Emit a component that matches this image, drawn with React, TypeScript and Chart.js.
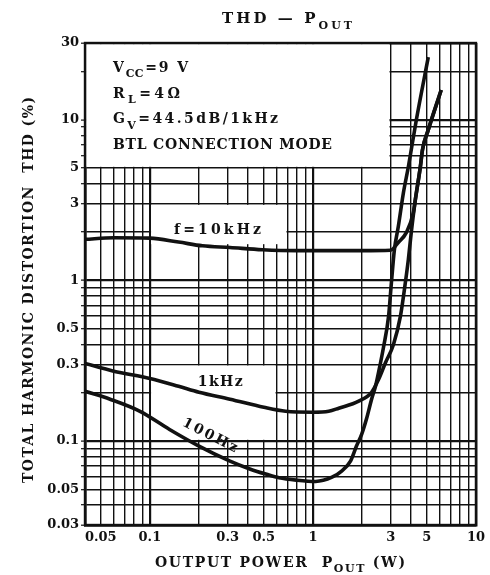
import { useEffect, useRef } from "react";
import { Chart, registerables } from "chart.js";

Chart.register(...registerables);

// ---------------- data ----------------
const xGridValues = [0.04, 0.05, 0.06, 0.07, 0.08, 0.09, 0.1, 0.2, 0.3, 0.4, 0.5, 0.6, 0.7, 0.8, 0.9, 1, 2, 3, 4, 5, 6, 7, 8, 9, 10];
const xLabelValues = [0.05, 0.1, 0.3, 0.5, 1, 3, 5, 10];
const yGridValues = [0.03, 0.04, 0.05, 0.06, 0.07, 0.08, 0.09, 0.1, 0.2, 0.3, 0.4, 0.5, 0.6, 0.7, 0.8, 0.9, 1, 2, 3, 4, 5, 6, 7, 8, 9, 10, 20, 30];
const yLabelValues = [0.03, 0.05, 0.1, 0.3, 0.5, 1, 3, 5, 10, 30];
const decadeValues = [0.1, 1, 10];

// f = 10 kHz
const pout10k = [0.04, 0.06, 0.1, 0.15, 0.21, 0.31, 0.49, 0.8, 1.25, 2.0, 2.99, 3.34, 3.74, 4.13, 4.25, 4.56, 4.7, 5.1, 6.12];
const thd10k = [1.8, 1.84, 1.83, 1.73, 1.64, 1.6, 1.55, 1.53, 1.53, 1.53, 1.54, 1.72, 1.98, 2.64, 3.18, 5.09, 6.5, 8.64, 15.3];

// f = 1 kHz
const pout1k = [0.04, 0.06, 0.1, 0.15, 0.2, 0.31, 0.5, 0.68, 1.0, 1.25, 1.44, 1.91, 2.29, 2.53, 2.79, 3.12, 3.44, 3.69, 3.85, 4.01, 4.25, 4.56, 4.7, 5.1, 6.12];
const thd1k = [0.304, 0.272, 0.245, 0.219, 0.201, 0.182, 0.162, 0.153, 0.151, 0.153, 0.16, 0.177, 0.201, 0.242, 0.308, 0.399, 0.596, 0.968, 1.35, 1.98, 3.18, 5.09, 6.5, 8.64, 15.3];

// f = 100 Hz
const pout100 = [0.04, 0.057, 0.087, 0.132, 0.2, 0.31, 0.41, 0.52, 0.62, 0.8, 1.04, 1.31, 1.5, 1.7, 1.85, 1.99, 2.13, 2.29, 2.42, 2.6, 2.71, 2.91, 3.03, 3.16, 3.34, 3.59, 3.85, 4.01, 4.31, 5.1];
const thd100 = [0.204, 0.182, 0.153, 0.118, 0.093, 0.075, 0.067, 0.062, 0.059, 0.057, 0.056, 0.0595, 0.065, 0.075, 0.093, 0.11, 0.137, 0.182, 0.219, 0.308, 0.383, 0.596, 0.968, 1.55, 2.16, 3.51, 5.09, 6.49, 9.98, 24.5];

type Part = [string, boolean];

const conditionLines: Part[][] = [
  [["V", false], ["CC", true], ["=9 V", false]],
  [["R", false], ["L", true], ["=4Ω", false]],
  [["G", false], ["V", true], ["=44.5dB/1kHz", false]],
  [["BTL CONNECTION MODE", false]],
];

const titleParts: Part[] = [["THD — P", false], ["OUT", true]];
const xTitleParts: Part[] = [["OUTPUT POWER  P", false], ["OUT", true], [" (W)", false]];
const yTitleParts: Part[] = [["TOTAL HARMONIC DISTORTION  THD (%)", false]];

const curveLabelTexts = ["f=10kHz", "1kHz", "100Hz"];

// ---------------- layout (annotation placement) ----------------
const curveLabelPlacement = [
  { x: 0.26, y: 2.1, width: 87, angle: 0 },
  { x: 0.27, y: 0.235, width: 45, angle: 0 },
  { x: 0.235, y: 0.11, width: 60, angle: 27 },
];
const legendBox = { x0: 0.04, x1: 3, y0: 5, y1: 30 };
const labelPatches = [
  { x0: 0.1, x1: 0.7, y0: 1.65, y1: 3 },
  { x0: 0.1, x1: 0.6, y0: 0.1, y1: 0.3 },
];
const conditionWidths = [75, 67, 165, 219];

const FONT = '"DejaVu Serif", serif';
const INK = "#111";

function drawRich(
  ctx: CanvasRenderingContext2D,
  parts: Part[],
  x: number,
  y: number,
  size: number,
  target: number,
  align: "left" | "center",
  subGap = 1
) {
  const subSize = Math.round(size * 0.75);
  let natural = 0;
  let weight = 0;
  const chars: { ch: string; sub: boolean }[] = [];
  for (const [t, s] of parts) {
    ctx.font = `bold ${s ? subSize : size}px ${FONT}`;
    for (const ch of t) {
      natural += ctx.measureText(ch).width;
      chars.push({ ch, sub: s });
    }
  }
  for (let i = 0; i < chars.length - 1; i++) {
    weight += chars[i].sub && chars[i + 1].sub ? subGap : 1;
  }
  const gap = target && weight > 0 ? (target - natural) / weight : 0;
  const total = target || natural;
  let cx = align === "center" ? x - total / 2 : x;
  ctx.textAlign = "left";
  ctx.textBaseline = "alphabetic";
  ctx.fillStyle = INK;
  chars.forEach((c, i) => {
    ctx.font = `bold ${c.sub ? subSize : size}px ${FONT}`;
    ctx.fillText(c.ch, cx, c.sub ? y + size * 0.38 : y);
    const next = chars[i + 1];
    cx += ctx.measureText(c.ch).width + (next && c.sub && next.sub ? gap * subGap : gap);
  });
}

const decorPlugin = {
  id: "decor",
  beforeDatasetsDraw(chart: any) {
    const { ctx, scales } = chart;
    const xs = scales.x;
    const ys = scales.y;
    ctx.save();
    ctx.fillStyle = "#fff";
    const fillBox = (b: { x0: number; x1: number; y0: number; y1: number }) => {
      const l = xs.getPixelForValue(b.x0);
      const r = xs.getPixelForValue(b.x1);
      const t = ys.getPixelForValue(b.y1);
      const bt = ys.getPixelForValue(b.y0);
      ctx.fillRect(l + 1.2, t + 1.2, r - l - 2.4, bt - t - 2.4);
    };
    fillBox(legendBox);
    labelPatches.forEach(fillBox);
    ctx.restore();
  },
  afterDatasetsDraw(chart: any) {
    const { ctx, chartArea, scales } = chart;
    const xs = scales.x;
    const ys = scales.y;
    ctx.save();
    curveLabelTexts.forEach((txt, i) => {
      const p = curveLabelPlacement[i];
      const px = xs.getPixelForValue(p.x);
      const py = ys.getPixelForValue(p.y);
      ctx.save();
      ctx.translate(px, py);
      ctx.rotate((p.angle * Math.PI) / 180);
      drawRich(ctx, [[txt, false]], 0, 5, 14, p.width, "center");
      ctx.restore();
    });
    conditionLines.forEach((parts, i) => {
      drawRich(ctx, parts, chartArea.left + 28, chartArea.top + 29 + i * 25.7, 14, conditionWidths[i], "left", 0.15);
    });
    ctx.restore();
  },
  afterDraw(chart: any) {
    const { ctx, chartArea } = chart;
    ctx.save();
    ctx.strokeStyle = INK;
    ctx.lineWidth = 2.4;
    ctx.strokeRect(chartArea.left, chartArea.top, chartArea.right - chartArea.left, chartArea.bottom - chartArea.top);
    drawRich(ctx, titleParts, 287, 23, 15, 130, "center");
    drawRich(ctx, xTitleParts, 155, 567, 14, 250, "left");
    ctx.save();
    ctx.translate(33, (chartArea.top + chartArea.bottom) / 2 + 6);
    ctx.rotate(-Math.PI / 2);
    drawRich(ctx, yTitleParts, 0, 0, 14, 386, "center");
    ctx.restore();
    ctx.restore();
  },
};

function gridWidth(min: number, max: number) {
  return (c: any) => {
    const v = c.tick ? c.tick.value : undefined;
    if (v === min || v === max) return 2.4;
    return decadeValues.includes(v) ? 2.2 : 1.4;
  };
}

export default function App() {
  const canvasRef = useRef<HTMLCanvasElement | null>(null);

  useEffect(() => {
    const canvas = canvasRef.current;
    if (!canvas) return;
    const line = (xs: number[], ys: number[], label: string) => ({
      label,
      data: xs.map((x, i) => ({ x, y: ys[i] })),
      borderColor: INK,
      borderWidth: 3.6,
      pointRadius: 0,
      fill: false,
      cubicInterpolationMode: "monotone" as const,
    });
    const chart = new Chart(canvas, {
      type: "line",
      data: {
        datasets: [line(pout10k, thd10k, "10kHz"), line(pout1k, thd1k, "1kHz"), line(pout100, thd100, "100Hz")],
      },
      options: {
        animation: false,
        responsive: false,
        devicePixelRatio: 1,
        layout: { padding: { left: 0, top: 43, right: 13, bottom: 0 } },
        plugins: { legend: { display: false }, tooltip: { enabled: false }, title: { display: false } },
        scales: {
          x: {
            type: "logarithmic",
            min: 0.04,
            max: 10,
            afterBuildTicks: (axis: any) => {
              axis.ticks = xGridValues.map((value) => ({ value }));
            },
            afterFit: (axis: any) => {
              axis.height = 50;
            },
            ticks: {
              autoSkip: false,
              maxRotation: 0,
              padding: 5,
              color: INK,
              font: { family: FONT, size: 13, weight: "bold" },
              callback: (v: any) => (xLabelValues.includes(v) ? String(v) : ""),
            },
            grid: { color: INK, lineWidth: gridWidth(0.04, 10), drawTicks: false },
            border: { display: true, color: INK, width: 2.4 },
          },
          y: {
            type: "logarithmic",
            min: 0.03,
            max: 30,
            afterBuildTicks: (axis: any) => {
              axis.ticks = yGridValues.map((value) => ({ value }));
            },
            afterFit: (axis: any) => {
              axis.width = 85;
            },
            ticks: {
              autoSkip: false,
              padding: 2,
              color: INK,
              font: { family: FONT, size: 13, weight: "bold" },
              callback: (v: any) => (yLabelValues.includes(v) ? String(v) : ""),
            },
            grid: { color: INK, lineWidth: gridWidth(0.03, 30), drawTicks: true, tickLength: 4, tickWidth: 1.2, tickColor: INK },
            border: { display: true, color: INK, width: 2.4 },
          },
        },
      },
      plugins: [decorPlugin],
    } as any);
    return () => chart.destroy();
  }, []);

  return (
    <div style={{ position: "absolute", left: 0, top: 0, width: 490, height: 575, background: "#fff" }}>
      <canvas ref={canvasRef} width={490} height={575} style={{ display: "block", width: 490, height: 575 }} />
    </div>
  );
}
